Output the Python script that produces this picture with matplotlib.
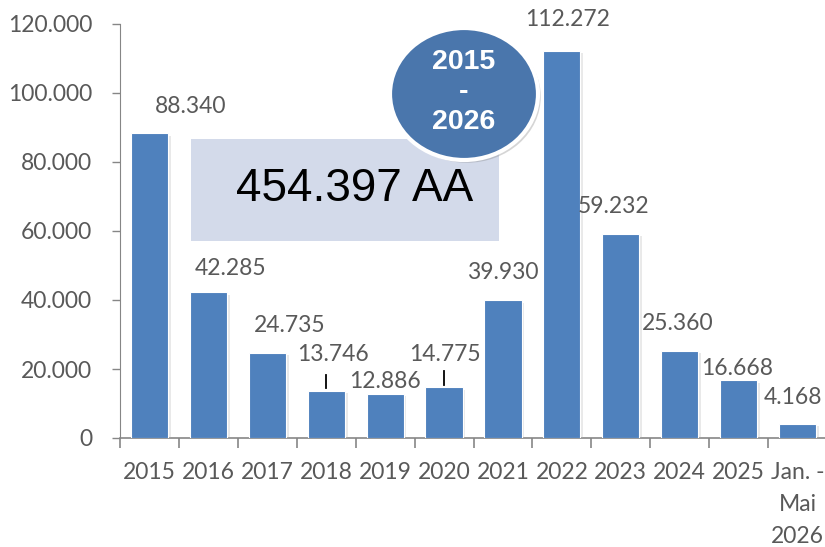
import matplotlib
matplotlib.use("Agg")
import matplotlib.pyplot as plt
import matplotlib.patches as mpatches
import matplotlib.patheffects as pe
from matplotlib.ticker import FuncFormatter

# Data
categories = ["2015", "2016", "2017", "2018", "2019", "2020", "2021",
              "2022", "2023", "2024", "2025", "Jan. -\nMai\n2026"]
values = [88340, 42285, 24735, 13746, 12886, 14775, 39930,
          112272, 59232, 25360, 16668, 4168]
total_label = "454.397 AA"
period_label = "2015\n-\n2026"

# label offsets in pixels (x, y) relative to the bar top
label_offsets = [(41, 27), (22, 24), (22, 27), (7, 36), (0, 12), (1, 33),
                 (0, 28), (6, 31), (-7, 27), (-2, 27), (-2, 12), (-5, 26)]
leader_bars = [3, 5]

BAR = "#4F81BD"
GRAY = "#595959"
AXIS = "#868686"
FS = 16.5

plt.rcParams['font.family'] = ['Lato', 'DejaVu Sans']


def de_fmt(v, pos=None):
    return f"{v:,.0f}".replace(",", ".")


fig = plt.figure(figsize=(8.25, 5.47), dpi=100)
ax = fig.add_axes([120 / 825, 109 / 547, 707 / 825, 414 / 547])

x = list(range(len(values)))
bars = ax.bar(x, values, width=0.63, color=BAR, edgecolor="white", linewidth=0.8, zorder=3)
for b in bars:
    b.set_path_effects([pe.SimplePatchShadow(offset=(2, -2), shadow_rgbFace="#aaaaaa", alpha=0.25),
                        pe.Normal()])

ax.set_xlim(-0.5, len(values) - 0.5)
ax.set_ylim(0, 120000)
ax.set_yticks(range(0, 120001, 20000))
ax.yaxis.set_major_formatter(FuncFormatter(de_fmt))

# category boundaries as ticks
ax.set_xticks([i - 0.5 for i in range(len(values) + 1)])
ax.set_xticklabels([])
ax.set_xticks(x, minor=True)
ax.set_xticklabels(categories, minor=True, fontsize=FS, color=GRAY,
                   multialignment="center", linespacing=1.65)
ax.tick_params(axis="x", which="minor", length=0, pad=17)
ax.tick_params(axis="x", which="major", length=7, width=1.2, color=AXIS)
ax.tick_params(axis="y", length=6, width=1, color=AXIS, labelsize=FS, labelcolor=GRAY, pad=14)

for s in ["top", "right"]:
    ax.spines[s].set_visible(False)
ax.spines["left"].set_color(AXIS)
ax.spines["bottom"].set_color(AXIS)
ax.spines["bottom"].set_linewidth(1.2)

# data labels
for i, v in enumerate(values):
    dx, dy = label_offsets[i]
    ax.annotate(de_fmt(v), (i, v), textcoords="offset pixels", xytext=(dx, dy),
                ha="center", va="center", fontsize=FS, color=GRAY, zorder=5)

for i in leader_bars:
    ax.plot([i, i], [values[i] + 700, values[i] + 4600], color="black", lw=1.3, zorder=4)

# total box
box = mpatches.Rectangle((191 / 825, 306 / 547), 308 / 825, 102 / 547,
                         transform=fig.transFigure, facecolor="#D3DAEA", edgecolor="none", zorder=1)
fig.patches.append(box)
fig.text(355 / 825, (547 - 189) / 547, total_label, fontsize=33, family="Liberation Sans",
         ha="center", va="center", color="black", zorder=2)

# period circle
circ = mpatches.Ellipse((464 / 825, (547 - 94) / 547), 148 / 825, 132 / 547,
                        transform=fig.transFigure, facecolor="#4A76AC", edgecolor="white",
                        linewidth=3, zorder=3)
circ.set_path_effects([pe.SimplePatchShadow(offset=(2, -2), shadow_rgbFace="#777777", alpha=0.3),
                       pe.Normal()])
fig.patches.append(circ)
fig.text(464 / 825, (547 - 92) / 547, period_label, fontsize=20.5, family="Liberation Sans",
         fontweight="bold", ha="center", va="center", color="white", linespacing=1.2, zorder=4)

fig.savefig("out.png", dpi=100)
